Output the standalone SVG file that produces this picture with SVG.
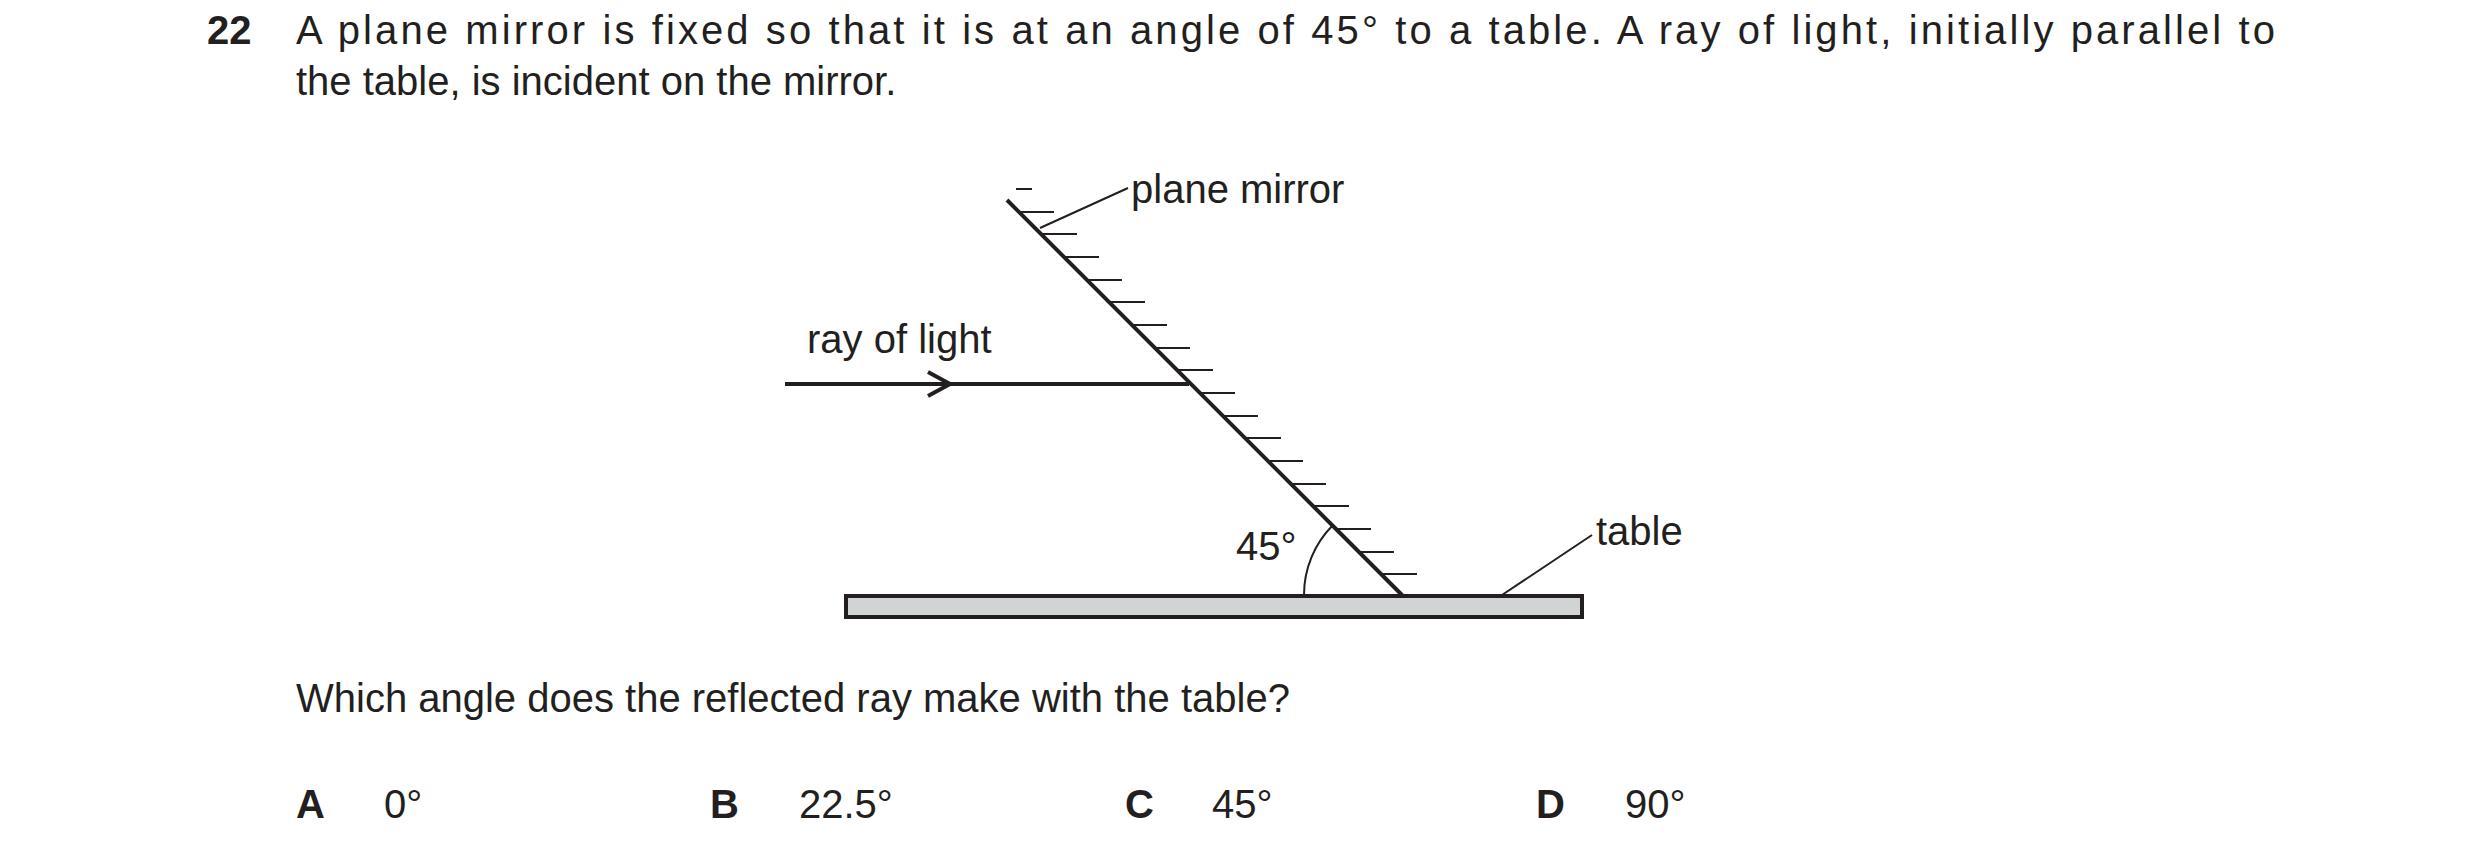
<svg xmlns="http://www.w3.org/2000/svg" width="2480" height="857" viewBox="0 0 2480 857">
<style>
text{font-family:"Liberation Sans",Arial,sans-serif;font-size:40px;fill:#231f20}
.b{font-weight:bold}
.ln{stroke:#231f20;fill:none}
</style>
<rect width="2480" height="857" fill="#fff"/>
<g id="question">
<text class="b" x="207" y="44">22</text>
<text x="296" y="44" textLength="1979" lengthAdjust="spacing">A plane mirror is fixed so that it is at an angle of 45° to a table. A ray of light, initially parallel to</text>
<text x="296" y="95">the table, is incident on the mirror.</text>
<text x="296" y="712">Which angle does the reflected ray make with the table?</text>
</g>
<g id="options">
<text class="b" x="296" y="818">A</text><text x="384" y="818">0°</text>
<text class="b" x="710" y="818">B</text><text x="799" y="818">22.5°</text>
<text class="b" x="1125" y="818">C</text><text x="1212" y="818">45°</text>
<text class="b" x="1536" y="818">D</text><text x="1625" y="818">90°</text>
</g>
<g id="table">
<rect x="846" y="596" width="736" height="21" fill="#d1d3d4" stroke="#231f20" stroke-width="4"/>
</g>
<g id="mirror">
<line class="ln" x1="1007" y1="200" x2="1403" y2="596" stroke-width="4"/>
<path class="ln" stroke-width="2" d="M1016 189h16 M1018 212h36 M1041 234h36 M1063 257h36 M1086 280h36 M1109 302h36 M1131 325h36 M1154 348h36 M1177 370h36 M1199 393h36 M1222 416h36 M1245 438h36 M1267 461h36 M1290 484h36 M1313 506h36 M1335 529h36 M1358 552h36 M1381 574h36"/>
</g>
<g id="connectors">
<line class="ln" x1="785" y1="384" x2="1189" y2="384" stroke-width="4"/>
<path class="ln" d="M928 372 L950 384 L928 396" stroke-width="4"/>
<path class="ln" d="M1304 595 A99 99 0 0 1 1333 525" stroke-width="2"/>
<line class="ln" x1="1128" y1="188" x2="1040" y2="228" stroke-width="2"/>
<line class="ln" x1="1592" y1="535" x2="1502" y2="595" stroke-width="2"/>
</g>
<g id="labels">
<text x="1131" y="203">plane mirror</text>
<text x="807" y="353">ray of light</text>
<text x="1596" y="545">table</text>
<text x="1236" y="560">45°</text>
</g>
</svg>
